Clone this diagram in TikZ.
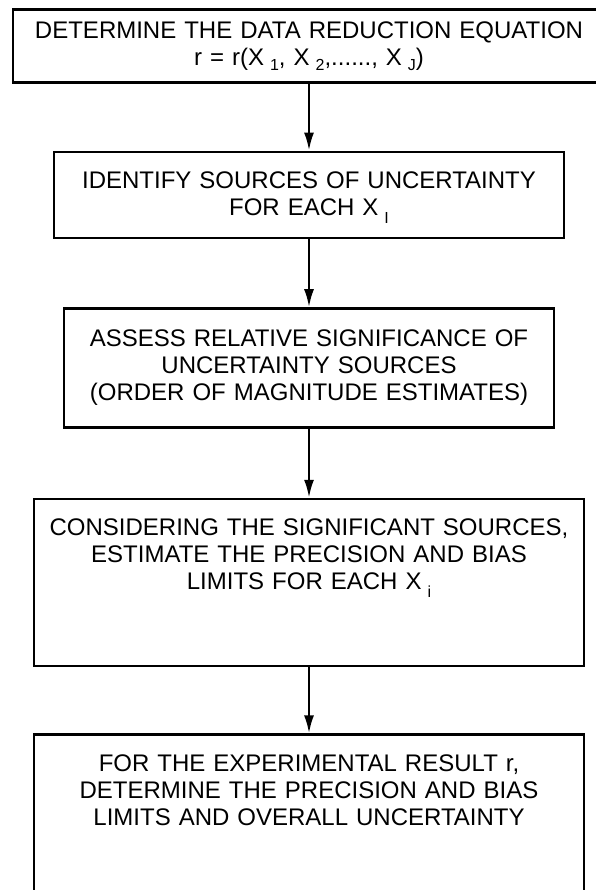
\documentclass[tikz,border=0pt]{standalone}
\usepackage{fontspec}
\setmainfont{Liberation Sans}
\usetikzlibrary{positioning}
\usetikzlibrary{arrows.meta}
\newcommand{\lowsub}[2][5pt]{\hspace{6pt}\raisebox{-#1}{\fontsize{16}{16}\selectfont #2}}

\begin{document}
\begin{tikzpicture}[
    stepbox/.style={draw, line width=2.6pt, inner sep=0pt, align=center,
      font=\fontsize{24}{27}\selectfont},
    flow/.style={-{Latex[length=18pt,width=10pt]}, line width=2.4pt}
  ]
  \useasboundingbox (0,0) rectangle (595pt,-890pt);
  \node[stepbox, text width=592pt, text height=29pt, text depth=44pt, anchor=north]
    (equation) at (309pt,-8pt)
    {DETERMINE THE DATA REDUCTION EQUATION\\
     r = r(X\lowsub{1}, X\lowsub{2},......, X\lowsub{J})};
  \node[stepbox, text width=510pt, text height=37pt, text depth=49pt,
    below=67pt of equation] (sources)
    {IDENTIFY SOURCES OF UNCERTAINTY\\
     FOR EACH X\lowsub[8pt]{I}};
  \node[stepbox, text width=490pt, text height=38pt, text depth=81pt,
    below=68pt of sources] (assess)
    {ASSESS RELATIVE SIGNIFICANCE OF\\
     UNCERTAINTY SOURCES\\
     (ORDER OF MAGNITUDE ESTIMATES)};
  \node[stepbox, text width=550pt, text height=36pt, text depth=131pt,
    below=69pt of assess] (limits)
    {CONSIDERING THE SIGNIFICANT SOURCES,\\
     ESTIMATE THE PRECISION AND BIAS\\
     LIMITS FOR EACH X\lowsub[8pt]{i}};
  \node[stepbox, text width=550pt, text height=37pt, text depth=140pt,
    below=66pt of limits] (result)
    {FOR THE EXPERIMENTAL RESULT r,\\
     DETERMINE THE PRECISION AND BIAS\\
     LIMITS AND OVERALL UNCERTAINTY};

  \draw[flow] (equation) -- (sources);
  \draw[flow] (sources) -- (assess);
  \draw[flow] (assess) -- (limits);
  \draw[flow] (limits) -- (result);
\end{tikzpicture}
\end{document}
